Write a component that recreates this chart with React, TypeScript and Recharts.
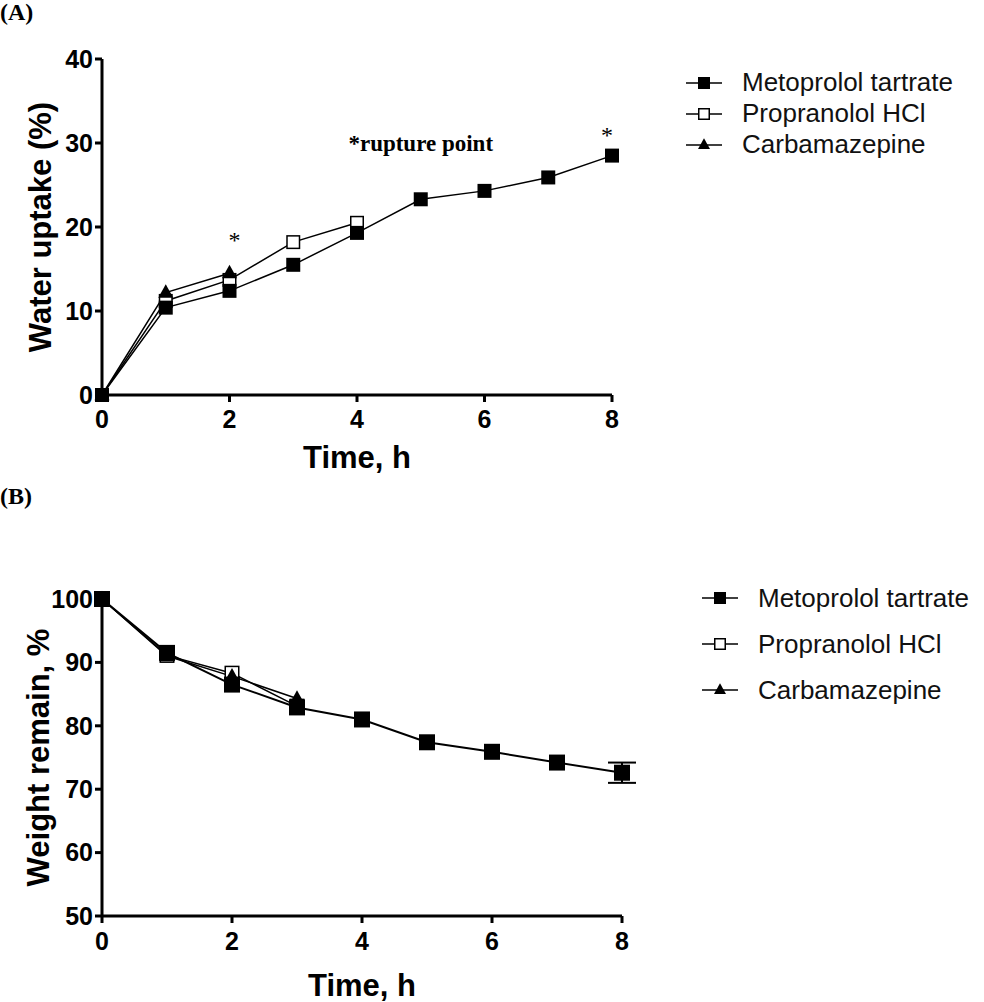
import { LineChart, Line, XAxis, YAxis, ReferenceDot, ErrorBar } from 'recharts';

// time points (h)
const hours = [0, 1, 2, 3, 4, 5, 6, 7, 8];
const timeTicks = [0, 2, 4, 6, 8];

// (A) water uptake, %
const metoWater = [0, 10.4, 12.4, 15.5, 19.3, 23.3, 24.3, 25.9, 28.5];
const propWater = [0, 11.2, 13.7, 18.2, 20.5];
const carbWater = [0, 12.2, 14.5];
const waterTicks = [0, 10, 20, 30, 40];

// (B) weight remaining, %
const metoWeight = [100, 91.5, 86.5, 82.9, 81.0, 77.4, 75.9, 74.2, 72.6];
const metoWeightErr = [null, null, null, null, null, null, null, null, 1.6];
const propWeight = [100, 91.1, 88.3, 83.1];
const carbWeight = [100, 91.0, 87.8, 84.3];
const weightTicks = [50, 60, 70, 80, 90, 100];

const seriesNames = ['Metoprolol tartrate', 'Propranolol HCl', 'Carbamazepine'];

const waterData = hours.map((t, i) => ({
  t,
  meto: metoWater[i],
  prop: propWater[i],
  carb: carbWater[i],
}));

const weightData = hours.map((t, i) => ({
  t,
  meto: metoWeight[i],
  err: metoWeightErr[i],
  prop: propWeight[i],
  carb: carbWeight[i],
}));

const NARROW = "'Liberation Sans Narrow', 'Arial Narrow', 'Liberation Sans', Arial, sans-serif";
const ARIAL = "'Liberation Sans', Arial, sans-serif";
const SERIF = "'Liberation Serif', 'Times New Roman', serif";

const tickStyle = { fontFamily: NARROW, fontWeight: 700, fontSize: 25, fill: '#000' };
const titleStyle = { fontFamily: NARROW, fontWeight: 700, fontSize: 31, fill: '#000' };

const FilledSquare = (props: any) => {
  const { cx, cy, size = 14 } = props;
  if (cx == null || cy == null || props.value == null) return null;
  return <rect x={cx - size / 2} y={cy - size / 2} width={size} height={size} fill="#000" />;
};

const OpenSquare = (props: any) => {
  const { cx, cy, size = 14 } = props;
  if (cx == null || cy == null || props.value == null) return null;
  return (
    <rect x={cx - size / 2 + 0.75} y={cy - size / 2 + 0.75} width={size - 1.5} height={size - 1.5} fill="#fff" stroke="#000" strokeWidth={1.5} />
  );
};

const Triangle = (props: any) => {
  const { cx, cy, size = 15 } = props;
  if (cx == null || cy == null || props.value == null) return null;
  const h = size * 0.9;
  return (
    <path d={`M${cx},${cy - h * 0.62} L${cx + size / 2},${cy + h * 0.38} L${cx - size / 2},${cy + h * 0.38} Z`} fill="#000" />
  );
};

const markers = [FilledSquare, OpenSquare, Triangle];

const LegendBox = ({ left, top, rowGap }: { left: number; top: number; rowGap: number }) => (
  <div style={{ position: 'absolute', left, top, fontFamily: ARIAL, fontSize: 26, color: '#111' }}>
    {seriesNames.map((name, i) => {
      const M = markers[i];
      return (
        <div key={name} style={{ display: 'flex', alignItems: 'center', height: rowGap }}>
          <svg width={40} height={24} style={{ marginRight: 18 }}>
            <line x1={2} y1={12} x2={38} y2={12} stroke="#000" strokeWidth={1.5} />
            <M cx={20} cy={12} value={1} size={12} />
          </svg>
          <span>{name}</span>
        </div>
      );
    })}
  </div>
);

const axisLine = { stroke: '#000', strokeWidth: 3 };
const starStyle = { fontFamily: SERIF, fontSize: 24, fill: '#000' };

export default function App() {
  return (
    <div style={{ position: 'absolute', left: 0, top: 0, width: 984, height: 1002, background: '#fff' }}>
      <div style={{ position: 'absolute', left: 0, top: 0, fontFamily: SERIF, fontWeight: 700, fontSize: 24, lineHeight: '24px' }}>(A)</div>
      <div style={{ position: 'absolute', left: 0, top: 484, fontFamily: SERIF, fontWeight: 700, fontSize: 24, lineHeight: '24px' }}>(B)</div>

      <div style={{ position: 'absolute', left: 0, top: 0 }}>
        <LineChart width={984} height={480} data={waterData} margin={{ top: 59, right: 372, left: 0, bottom: 0 }}>
          <XAxis
            dataKey="t"
            type="number"
            domain={[0, 8]}
            ticks={timeTicks}
            tick={tickStyle}
            tickSize={7}
            tickMargin={8}
            tickLine={axisLine}
            axisLine={axisLine}
            height={85}
            label={{ value: 'Time, h', position: 'insideBottom', offset: 12, style: titleStyle }}
          />
          <YAxis
            type="number"
            domain={[0, 40]}
            ticks={waterTicks}
            tick={tickStyle}
            tickSize={7}
            tickLine={axisLine}
            axisLine={axisLine}
            width={102}
            label={{ value: 'Water uptake (%)', angle: -90, position: 'insideLeft', offset: 40, style: { ...titleStyle, textAnchor: 'middle' } }}
          />
          <Line dataKey="prop" stroke="#000" strokeWidth={1.5} dot={<OpenSquare />} isAnimationActive={false} />
          <Line dataKey="carb" stroke="#000" strokeWidth={1.5} dot={<Triangle />} isAnimationActive={false} />
          <Line dataKey="meto" stroke="#000" strokeWidth={1.5} dot={<FilledSquare />} isAnimationActive={false} />
          <ReferenceDot x={2.08} y={18.5} r={0} fill="none" stroke="none" label={{ value: '*', position: 'center', style: starStyle }} />
          <ReferenceDot x={7.92} y={31} r={0} fill="none" stroke="none" label={{ value: '*', position: 'center', style: starStyle }} />
          <ReferenceDot x={5} y={30} r={0} fill="none" stroke="none" label={{ value: '*rupture point', position: 'center', style: { fontFamily: SERIF, fontWeight: 700, fontSize: 23, fill: '#000' } }} />
        </LineChart>
      </div>
      <LegendBox left={684} top={67} rowGap={31} />

      <div style={{ position: 'absolute', left: 0, top: 480 }}>
        <LineChart width={984} height={522} data={weightData} margin={{ top: 119, right: 362, left: 0, bottom: 0 }}>
          <XAxis
            dataKey="t"
            type="number"
            domain={[0, 8]}
            ticks={timeTicks}
            tick={tickStyle}
            tickSize={7}
            tickMargin={9}
            tickLine={axisLine}
            axisLine={axisLine}
            height={86}
            label={{ value: 'Time, h', position: 'insideBottom', offset: 6, style: titleStyle }}
          />
          <YAxis
            type="number"
            domain={[50, 100]}
            ticks={weightTicks}
            tick={tickStyle}
            tickSize={7}
            tickLine={axisLine}
            axisLine={axisLine}
            width={102}
            label={{ value: 'Weight remain, %', angle: -90, position: 'insideLeft', offset: 38, style: { ...titleStyle, textAnchor: 'middle' } }}
          />
          <Line dataKey="prop" stroke="#000" strokeWidth={1.5} dot={<OpenSquare size={15} />} isAnimationActive={false} />
          <Line dataKey="carb" stroke="#000" strokeWidth={1.5} dot={<Triangle size={15} />} isAnimationActive={false} />
          <Line dataKey="meto" stroke="#000" strokeWidth={2} dot={<FilledSquare size={16} />} isAnimationActive={false}>
            <ErrorBar dataKey="err" direction="y" width={14} stroke="#000" strokeWidth={2} />
          </Line>
        </LineChart>
      </div>
      <LegendBox left={700} top={575} rowGap={46} />
    </div>
  );
}
